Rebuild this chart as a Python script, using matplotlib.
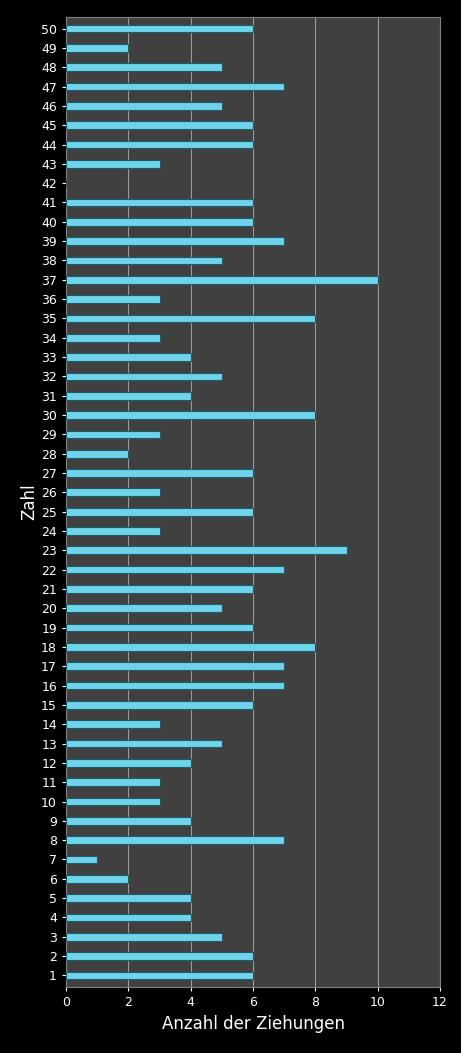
import matplotlib
matplotlib.use("Agg")
import matplotlib.pyplot as plt

zahlen = list(range(1, 51))
anzahl = [6,6,5,4,4,2,1,7,4,3,3,4,5,3,6,7,7,8,6,5,6,7,9,3,6,3,6,2,3,8,
          4,5,4,3,8,3,10,5,7,6,6,0,3,6,6,5,7,5,2,6]

fig = plt.figure(figsize=(4.61, 10.53), dpi=100, facecolor="black")
ax = fig.add_axes([66/461, 1-987/1053, (440-66)/461, (987-17)/1053])
ax.set_facecolor("#404040")
ax.barh(zahlen, anzahl, height=0.4, color="#6fd3ea", edgecolor="#1c5f70", linewidth=0.8, zorder=3)
ax.set_xlim(0, 12)
ax.set_ylim(0.4, 50.6)
ax.set_xticks(range(0, 13, 2))
ax.set_yticks(zahlen)
ax.grid(axis="x", color="#9a9a9a", linewidth=0.8, zorder=0)
ax.tick_params(colors="white", labelsize=9, length=3)
for s in ax.spines.values():
    s.set_color("#808080")
ax.set_xlabel("Anzahl der Ziehungen", color="white", fontsize=12)
ax.set_ylabel("Zahl", color="white", fontsize=12, labelpad=2)
fig.savefig("out.png", dpi=100, facecolor="black")
